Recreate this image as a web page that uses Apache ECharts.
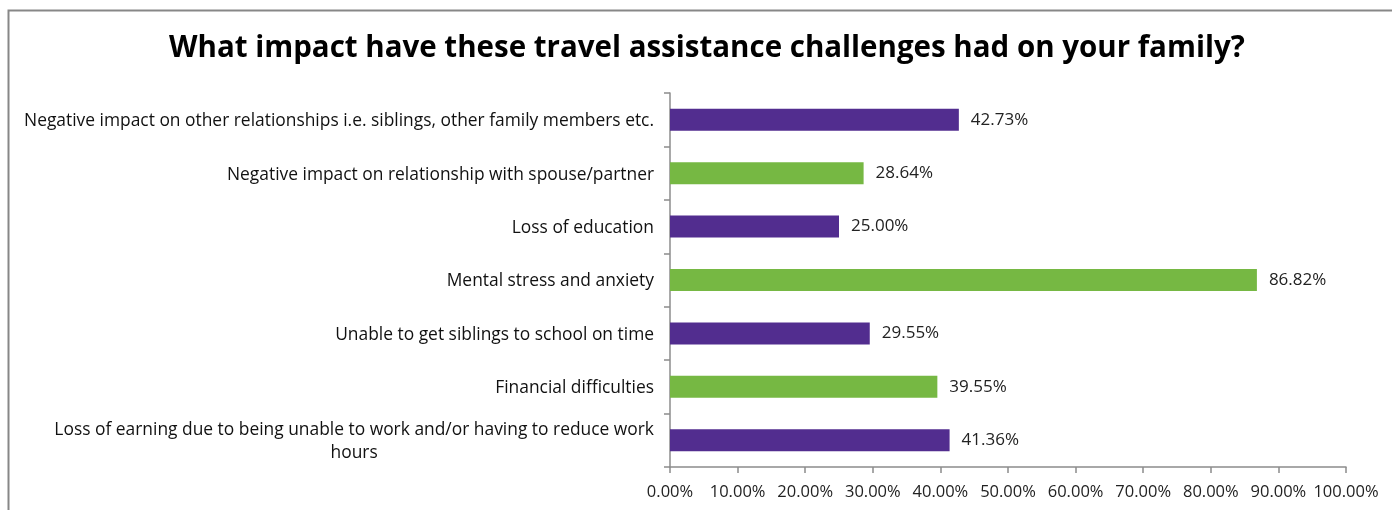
<!DOCTYPE html>
<html>
<head>
<meta charset="utf-8">
<script src="https://cdn.jsdelivr.net/npm/echarts@6/dist/echarts.min.js"></script>
<style>
  html, body { margin: 0; padding: 0; background: #fff; }
  #chart { width: 1392px; height: 510px; }
</style>
</head>
<body>
<div id="chart"></div>
<script>
// Survey responses, listed top to bottom as shown
const categories = [
  'Negative impact on other relationships i.e. siblings, other family members etc.',
  'Negative impact on relationship with spouse/partner',
  'Loss of education',
  'Mental stress and anxiety',
  'Unable to get siblings to school on time',
  'Financial difficulties',
  'Loss of earning due to being unable to work and/or having to reduce work\nhours'
];
const percentages = [42.73, 28.64, 25.00, 86.82, 29.55, 39.55, 41.36];
const barColors = ['#522D8F', '#76B843', '#522D8F', '#76B843', '#522D8F', '#76B843', '#522D8F'];
const xTicks = [0, 10, 20, 30, 40, 50, 60, 70, 80, 90, 100];

const font = '"Open Sans", sans-serif';
const chart = echarts.init(document.getElementById('chart'), null, { renderer: 'canvas' });

chart.setOption({
  animation: false,
  backgroundColor: '#ffffff',
  title: {
    text: 'What impact have these travel assistance challenges had on your family?',
    left: 164,
    top: 29,
    textStyle: { fontFamily: font, fontSize: 29.5, fontWeight: 'bold', color: '#000' }
  },
  graphic: [{
    type: 'rect',
    shape: { x: 8.5, y: 10.5, width: 1420, height: 540 },
    style: { fill: 'none', stroke: '#878787', lineWidth: 2 },
    silent: true,
    z: 100
  }],
  grid: { left: 670, right: 46, top: 93, bottom: 43, containLabel: false },
  xAxis: {
    type: 'value',
    min: xTicks[0],
    max: xTicks[xTicks.length - 1],
    interval: 10,
    axisLine: { show: true, lineStyle: { color: '#8c8c8c', width: 1.5 } },
    axisTick: { show: true, length: 6, lineStyle: { color: '#8c8c8c', width: 1.5 } },
    splitLine: { show: false },
    axisLabel: {
      margin: 17,
      fontFamily: font,
      fontSize: 16.5,
      color: '#222',
      formatter: v => v.toFixed(2) + '%'
    }
  },
  yAxis: {
    type: 'category',
    inverse: true,
    data: categories,
    axisLine: { show: true, lineStyle: { color: '#8c8c8c', width: 1.5 } },
    axisTick: { show: true, length: 6, lineStyle: { color: '#8c8c8c', width: 1.5 } },
    axisLabel: {
      margin: 16,
      fontFamily: font,
      fontSize: 17.4,
      color: '#111',
      lineHeight: 23,
      // each line centred within the label block, block right-aligned to the axis
      formatter: v => v.split('\n').map(s => '{c|' + s + '}').join('\n'),
      rich: { c: { align: 'center', fontFamily: font, fontSize: 17.4, lineHeight: 23, color: '#111', padding: [3, 0, 0, 0] } }
    }
  },
  series: [{
    type: 'bar',
    barWidth: 22,
    data: percentages.map((v, i) => ({ value: v, itemStyle: { color: barColors[i] } })),
    label: {
      show: true,
      position: 'right',
      distance: 12,
      fontFamily: font,
      fontSize: 17,
      color: '#222',
      formatter: p => p.value.toFixed(2) + '%'
    }
  }]
});
</script>
</body>
</html>
